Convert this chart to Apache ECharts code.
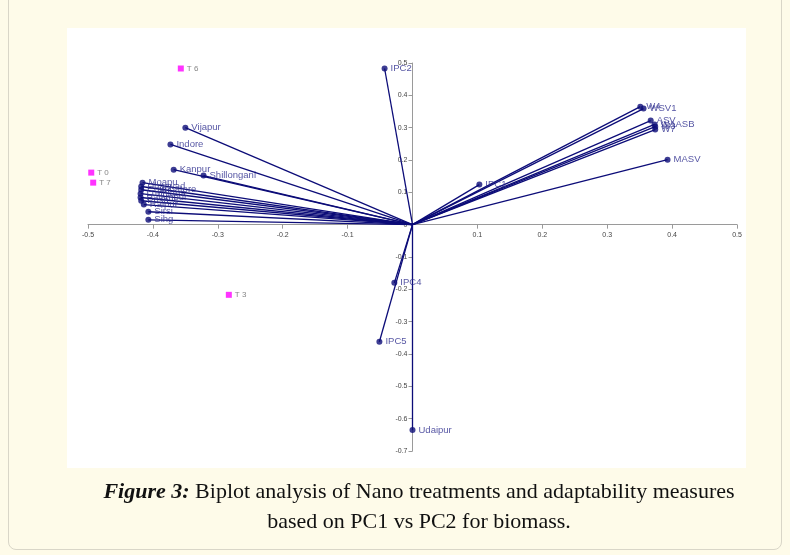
<!DOCTYPE html>
<html>
<head>
<meta charset="utf-8">
<script src="https://cdn.jsdelivr.net/npm/echarts@6/dist/echarts.min.js"></script>
<style>
  html, body { margin: 0; padding: 0; background: #fefbe9; }
  #page { position: relative; width: 790px; height: 555px; overflow: hidden; }
  #box { position: absolute; left: 8px; top: -10px; width: 772px; height: 558px;
         border: 1px solid #d9d6c8; border-radius: 8px; background: #fefbe9; }
  #panel { position: absolute; left: 67px; top: 28px; width: 679px; height: 440px; background: #fff; }
  #main { position: absolute; left: 0; top: 0; width: 790px; height: 555px; }
  #caption { position: absolute; left: 24px; top: 476px; width: 790px; text-align: center;
             font-family: "Liberation Serif", serif; font-size: 22px; line-height: 30px; color: #111; }
</style>
</head>
<body>
<div id="page">
  <div id="box"></div>
  <div id="panel"></div>
  <div id="main"></div>
  <div id="caption"><b><i>Figure 3:</i></b> Biplot analysis of Nano treatments and adaptability measures<br>based on PC1 vs PC2 for biomass.</div>
</div>
<script>
// vectors (environments and adaptability measures)
var vecNames = ['IPC2', 'Vijapur', 'Indore', 'Kanpur', 'Shillongani', 'Moapu', 'Dharwad', 'Coimbatore',
    'Ludhiana', 'Palampur', 'Pusa', 'Raipur', 'Sirsi', 'Sihg', 'IPC1', 'IPC4', 'IPC5', 'Udaipur',
    'W4', 'WSV1', 'ASV', 'WAASB', 'W3', 'W7', 'MASV'];
var vecPC1 = [-0.043, -0.350, -0.373, -0.368, -0.322, -0.416, -0.418, -0.418,
    -0.419, -0.419, -0.418, -0.414, -0.407, -0.407, 0.103, -0.028, -0.051, 0.0,
    0.351, 0.356, 0.367, 0.373, 0.374, 0.374, 0.393];
var vecPC2 = [0.483, 0.300, 0.248, 0.170, 0.152, 0.130, 0.118, 0.108,
    0.096, 0.084, 0.074, 0.062, 0.040, 0.015, 0.124, -0.180, -0.362, -0.635,
    0.365, 0.359, 0.322, 0.310, 0.303, 0.294, 0.201];

// treatments
var trtNames = ['T 6', 'T 0', 'T 7', 'T 3'];
var trtPC1 = [-0.357, -0.495, -0.492, -0.283];
var trtPC2 = [0.483, 0.161, 0.130, -0.217];

var xTicks = { min: -0.5, max: 0.5, interval: 0.1 };
var yTicks = { min: -0.7, max: 0.5, interval: 0.1 };

var navy = '#0c0c78';
var gridBox = { left: 88, right: 53, top: 63, bottom: 104 };

var chart = echarts.init(document.getElementById('main'));

var vecLines = vecNames.map(function (n, i) {
    return { name: n, coords: [[0, 0], [vecPC1[i], vecPC2[i]]] };
});
var vecPoints = vecNames.map(function (n, i) {
    return { name: n, value: [vecPC1[i], vecPC2[i]] };
});
var trtPoints = trtNames.map(function (n, i) {
    return { name: n, value: [trtPC1[i], trtPC2[i]] };
});

function fmt(v) {
    var r = Math.round(v * 10) / 10;
    return r === 0 ? '0' : r.toFixed(1);
}

var option = {
    animation: false,
    grid: gridBox,
    xAxis: {
        type: 'value',
        position: 'bottom',
        min: xTicks.min, max: xTicks.max, interval: xTicks.interval,
        splitLine: { show: false },
        axisLine: { onZero: false, lineStyle: { color: '#9a9a9a', width: 1 } },
        axisTick: { show: true, length: 4, lineStyle: { color: '#9a9a9a' } },
        axisLabel: {
            fontSize: 7, color: '#444', margin: 7, fontFamily: 'Liberation Sans',
            formatter: function (v) { return Math.abs(v) < 1e-9 ? '' : fmt(v); }
        }
    },
    yAxis: {
        type: 'value',
        position: 'left',
        min: yTicks.min, max: yTicks.max, interval: yTicks.interval,
        splitLine: { show: false },
        axisLine: { onZero: false, lineStyle: { color: '#9a9a9a', width: 1 } },
        axisTick: { show: true, length: 4, lineStyle: { color: '#9a9a9a' } },
        axisLabel: {
            fontSize: 7, color: '#444', margin: 5, fontFamily: 'Liberation Sans',
            formatter: function (v) { return fmt(v); }
        }
    },
    series: [
        {
            type: 'lines',
            coordinateSystem: 'cartesian2d',
            polyline: false,
            symbol: 'none',
            silent: true,
            lineStyle: { color: navy, width: 1.3, opacity: 1 },
            data: vecLines,
            z: 2
        },
        {
            type: 'scatter',
            symbol: 'circle',
            symbolSize: 6,
            itemStyle: { color: navy },
            label: {
                show: true, position: 'right', distance: 3,
                formatter: '{b}', color: '#2a2a8c', fontSize: 9.5, fontFamily: 'Liberation Sans'
            },
            data: vecPoints,
            z: 3
        },
        {
            type: 'scatter',
            symbol: 'rect',
            symbolSize: 6,
            itemStyle: { color: '#ff00ff' },
            label: {
                show: true, position: 'right', distance: 3,
                formatter: '{b}', color: '#666', fontSize: 8, fontFamily: 'Liberation Sans'
            },
            data: trtPoints,
            z: 3
        }
    ]
};

chart.setOption(option);

// move both axes so that they cross at the origin, labels included
var origin = chart.convertToPixel({ gridIndex: 0 }, [0, 0]);
var bottomEdge = 555 - gridBox.bottom;
chart.setOption({
    xAxis: { offset: origin[1] - bottomEdge },
    yAxis: { offset: gridBox.left - origin[0] }
});
</script>
</body>
</html>
